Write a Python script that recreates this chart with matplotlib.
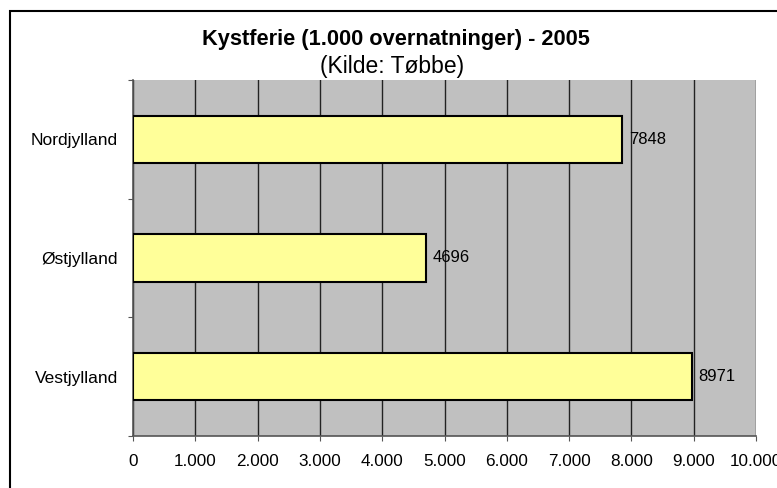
import matplotlib.pyplot as plt
import matplotlib.patches as patches
from matplotlib.ticker import FuncFormatter, MultipleLocator

plt.rcParams['font.family'] = ['Liberation Sans', 'DejaVu Sans']

# Data
regioner = ['Vestjylland', 'Østjylland', 'Nordjylland']
overnatninger = [8971, 4696, 7848]

fig = plt.figure(figsize=(7.77, 4.88), dpi=100)
W, H = 777, 488
ax = fig.add_axes([133 / W, 1 - 436 / H, (756 - 133) / W, (436 - 80) / H])

ax.set_facecolor('#C0C0C0')
pos = list(range(len(regioner)))
ax.barh(pos, overnatninger, height=0.4, color='#FFFF99', edgecolor='black',
        linewidth=1.5, zorder=3)

for p, v in zip(pos, overnatninger):
    ax.text(v + 110, p, str(v), va='center', ha='left', fontsize=12, zorder=4)

ax.set_xlim(0, 10000)
ax.set_ylim(-0.5, len(regioner) - 0.5)
ax.xaxis.set_major_locator(MultipleLocator(1000))
ax.xaxis.set_major_formatter(FuncFormatter(lambda x, _: f'{int(x):,}'.replace(',', '.')))
ax.grid(axis='x', color='#222222', linewidth=1, zorder=1)

# category labels between ticks, like Excel
ax.set_yticks([-0.5, 0.5, 1.5, 2.5])
ax.set_yticklabels([])
ax.set_yticks(pos, minor=True)
ax.set_yticklabels(regioner, minor=True, fontsize=12.5)
ax.tick_params(axis='y', which='minor', length=0, pad=11)
ax.tick_params(axis='y', which='major', length=3.6, color='#555555')
ax.tick_params(axis='x', length=3.6, color='#555555', labelsize=12.3, pad=9)

for s in ['top', 'right']:
    ax.spines[s].set_visible(False)
for s in ['left', 'bottom']:
    ax.spines[s].set_color('#555555')
    ax.spines[s].set_linewidth(1.2)

fig.text(396 / W, 1 - 39 / H, 'Kystferie (1.000 overnatninger) - 2005',
         ha='center', va='center', fontsize=15.7, fontweight='bold')
fig.text(392 / W, 1 - 66 / H, '(Kilde: Tøbbe)', ha='center', va='center', fontsize=16.5)

# chart frame (only left and top are inside the picture)
fig.patches.append(patches.Rectangle((10 / W, -0.1), 1.2, 1 - 11 / H + 0.1,
                                     transform=fig.transFigure, fill=False,
                                     edgecolor='black', linewidth=1.5))

fig.savefig('out.png', dpi=100)
